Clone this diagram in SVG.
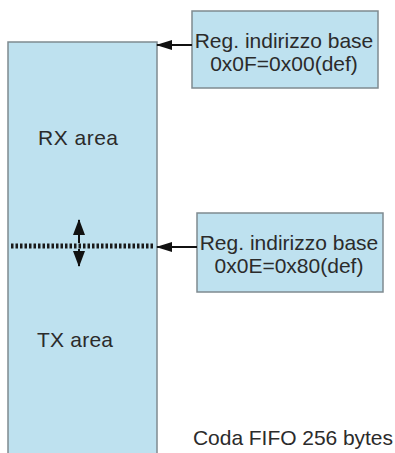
<svg xmlns="http://www.w3.org/2000/svg" width="395" height="453" viewBox="0 0 395 453">
<style>
.box{fill:#bee1ef;stroke:#7f8a90;stroke-width:1.5}
.t{font-family:"Liberation Sans",Arial,sans-serif;font-size:21px;fill:#2b2b2b}
.c{text-anchor:middle}
.con{stroke:#111;stroke-width:2;fill:none}
</style>
<defs>
<marker id="ah" viewBox="0 0 16 10" refX="15" refY="5" markerWidth="16" markerHeight="10" markerUnits="userSpaceOnUse" orient="auto">
<path d="M0,0 L16,5 L0,10 Z" fill="#111"/>
</marker>
<marker id="ah2" viewBox="0 0 16 12" refX="15" refY="6" markerWidth="16" markerHeight="12" markerUnits="userSpaceOnUse" orient="auto">
<path d="M0,0 L16,6 L0,12 Z" fill="#111"/>
</marker>
</defs>
<g id="fifo">
<rect class="box" x="8" y="42" width="149" height="430"/>
<text class="t" x="38" y="145" textLength="80">RX area</text>
<text class="t" x="37" y="347" textLength="76">TX area</text>
</g>
<g id="reg0F">
<rect class="box" x="192" y="11" width="186" height="77"/>
<text class="t c" x="284" y="48">Reg. indirizzo base</text>
<text class="t c" x="284" y="71">0x0F=0x00(def)</text>
</g>
<g id="reg0E">
<rect class="box" x="197" y="213" width="186" height="79"/>
<text class="t c" x="289" y="250">Reg. indirizzo base</text>
<text class="t c" x="289" y="273">0x0E=0x80(def)</text>
</g>
<g id="label">
<text class="t" x="193" y="445" textLength="200">Coda FIFO 256 bytes</text>
</g>
<g id="connectors">
<line class="con" x1="192" y1="45" x2="157" y2="45" marker-end="url(#ah)"/>
<line class="con" x1="197" y1="247" x2="157" y2="247" marker-end="url(#ah)"/>
<line x1="11" y1="246" x2="155" y2="246" stroke="#1a1a1a" stroke-width="5" stroke-dasharray="2.5 2"/>
<line class="con" x1="79" y1="243" x2="79" y2="220" marker-end="url(#ah2)"/>
<line class="con" x1="79" y1="249" x2="79" y2="266" marker-end="url(#ah2)"/>
</g>
</svg>
